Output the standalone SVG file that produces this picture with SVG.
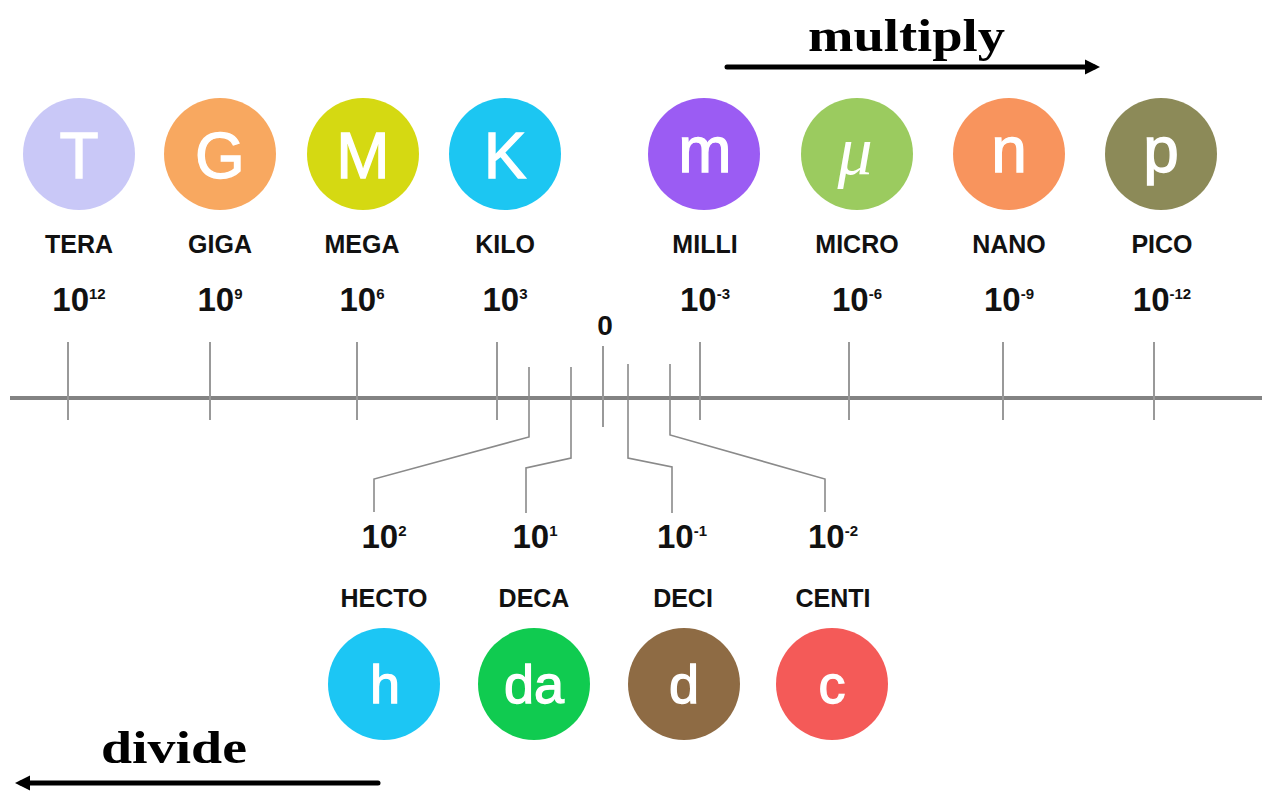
<svg xmlns="http://www.w3.org/2000/svg" width="1266" height="792" viewBox="0 0 1266 792">
<style>
.lt{font-family:"Liberation Sans",Arial,sans-serif;font-size:64px;fill:#fff;stroke:#fff;stroke-width:1.3;text-anchor:middle}
.lb{font-size:54px}
.nm{font-family:"Liberation Sans",Arial,sans-serif;font-size:25px;font-weight:bold;fill:#111;text-anchor:middle}
.pw{font-family:"Liberation Sans",Arial,sans-serif;font-size:33px;font-weight:bold;fill:#111;text-anchor:middle}
.sp{font-size:15px}
.tk{stroke:#999;stroke-width:2;fill:none}
.cn{stroke:#8a8a8a;stroke-width:1.6;fill:none}
.ar{stroke:#000;stroke-width:5;stroke-linecap:round;fill:none}
.ser{font-family:"Liberation Serif","Times New Roman",serif;font-weight:bold;font-size:46px;fill:#000}
</style>
<defs>
<marker id="ah" viewBox="0 0 10 10" refX="6" refY="5" markerWidth="3" markerHeight="3.4" orient="auto" markerUnits="strokeWidth">
<path d="M0,0 L10,5 L0,10 Z" fill="#000"/>
</marker>
</defs>
<rect width="1266" height="792" fill="#fff"/>

<g id="axis">
<line x1="10" y1="398" x2="1262" y2="398" stroke="#838383" stroke-width="4"/>
</g>

<g id="connectors">
<line class="tk" x1="68" y1="342" x2="68" y2="420"/>
<line class="tk" x1="210" y1="342" x2="210" y2="420"/>
<line class="tk" x1="357" y1="342" x2="357" y2="420"/>
<line class="tk" x1="497" y1="342" x2="497" y2="420"/>
<line class="tk" x1="700" y1="342" x2="700" y2="420"/>
<line class="tk" x1="849" y1="342" x2="849" y2="420"/>
<line class="tk" x1="1003" y1="342" x2="1003" y2="420"/>
<line class="tk" x1="1154" y1="342" x2="1154" y2="420"/>
<line class="tk" x1="603" y1="346" x2="603" y2="427"/>
<path class="cn" d="M529,367 V437 L374,479 V512"/>
<path class="cn" d="M571,367 V458 L526,468 V513"/>
<path class="cn" d="M628,364 V458 L672,467 V513"/>
<path class="cn" d="M670,364 V435 L825,479 V512"/>
<line class="ar" x1="727" y1="67" x2="1094" y2="67" marker-end="url(#ah)"/>
<line class="ar" x1="378" y1="783" x2="21" y2="783" marker-end="url(#ah)"/>
</g>

<g id="multiply"><text class="ser" x="808" y="51" textLength="197" lengthAdjust="spacingAndGlyphs">multiply</text></g>
<g id="divide"><text class="ser" x="101" y="763" textLength="146" lengthAdjust="spacingAndGlyphs">divide</text></g>

<g id="tera">
<circle cx="79" cy="154" r="56" fill="#c9c8f7"/>
<text class="lt" x="79" y="178">T</text>
<text class="nm" x="79" y="253">TERA</text>
<text class="pw" x="79" y="311">10<tspan class="sp" dy="-12">12</tspan></text>
</g>
<g id="giga">
<circle cx="220" cy="154" r="56" fill="#f8a860"/>
<text class="lt" x="220" y="178">G</text>
<text class="nm" x="220" y="253">GIGA</text>
<text class="pw" x="220" y="311">10<tspan class="sp" dy="-12">9</tspan></text>
</g>
<g id="mega">
<circle cx="363" cy="154" r="56" fill="#d5d912"/>
<text class="lt" x="363" y="178">M</text>
<text class="nm" x="362" y="253">MEGA</text>
<text class="pw" x="362" y="311">10<tspan class="sp" dy="-12">6</tspan></text>
</g>
<g id="kilo">
<circle cx="505" cy="154" r="56" fill="#1cc6f2"/>
<text class="lt" x="505" y="178">K</text>
<text class="nm" x="505" y="253">KILO</text>
<text class="pw" x="505" y="311">10<tspan class="sp" dy="-12">3</tspan></text>
</g>
<g id="zero">
<text class="pw" x="605" y="335" style="font-size:28px">0</text>
</g>
<g id="milli">
<circle cx="704" cy="154" r="56" fill="#9b5cf3"/>
<text class="lt" x="705" y="172">m</text>
<text class="nm" x="705" y="253">MILLI</text>
<text class="pw" x="705" y="311">10<tspan class="sp" dy="-12">-3</tspan></text>
</g>
<g id="micro">
<circle cx="857" cy="154" r="56" fill="#9bcb5f"/>
<text x="855" y="174" text-anchor="middle" style="font-family:'Liberation Serif','Times New Roman',serif;font-style:italic;font-size:70px;fill:#fff">μ</text>
<text class="nm" x="857" y="253">MICRO</text>
<text class="pw" x="857" y="311">10<tspan class="sp" dy="-12">-6</tspan></text>
</g>
<g id="nano">
<circle cx="1009" cy="154" r="56" fill="#f8945d"/>
<text class="lt" x="1009" y="172">n</text>
<text class="nm" x="1009" y="253">NANO</text>
<text class="pw" x="1009" y="311">10<tspan class="sp" dy="-12">-9</tspan></text>
</g>
<g id="pico">
<circle cx="1161" cy="154" r="56" fill="#8c8a58"/>
<text class="lt" x="1161" y="172">p</text>
<text class="nm" x="1162" y="253">PICO</text>
<text class="pw" x="1162" y="311">10<tspan class="sp" dy="-12">-12</tspan></text>
</g>

<g id="hecto">
<text class="pw" x="384" y="548">10<tspan class="sp" dy="-12">2</tspan></text>
<text class="nm" x="384" y="607">HECTO</text>
<circle cx="384" cy="684" r="56" fill="#1cc6f4"/>
<text class="lt lb" x="385" y="703">h</text>
</g>
<g id="deca">
<text class="pw" x="535" y="548">10<tspan class="sp" dy="-12">1</tspan></text>
<text class="nm" x="534" y="607">DECA</text>
<circle cx="534" cy="684" r="56" fill="#10cb50"/>
<text class="lt lb" x="534" y="703">da</text>
</g>
<g id="deci">
<text class="pw" x="682" y="548">10<tspan class="sp" dy="-12">-1</tspan></text>
<text class="nm" x="683" y="607">DECI</text>
<circle cx="684" cy="684" r="56" fill="#8e6b44"/>
<text class="lt lb" x="684" y="703">d</text>
</g>
<g id="centi">
<text class="pw" x="833" y="548">10<tspan class="sp" dy="-12">-2</tspan></text>
<text class="nm" x="833" y="607">CENTI</text>
<circle cx="832" cy="684" r="56" fill="#f45a58"/>
<text class="lt lb" x="832" y="703">c</text>
</g>
</svg>
